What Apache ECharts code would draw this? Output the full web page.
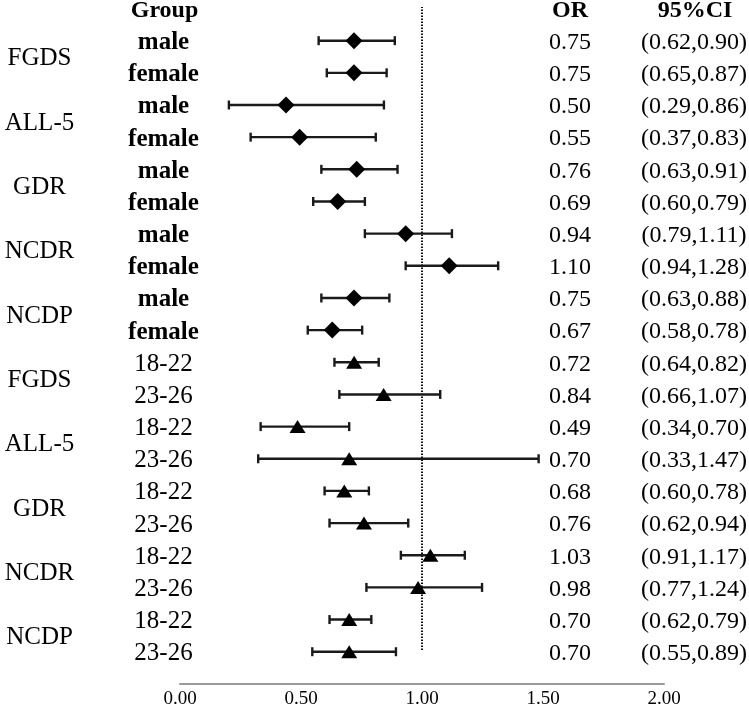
<!DOCTYPE html>
<html>
<head>
<meta charset="utf-8">
<script src="https://cdn.jsdelivr.net/npm/echarts@6/dist/echarts.min.js"></script>
<style>
  html, body { margin: 0; padding: 0; background: #fff; }
  #chart { width: 749px; height: 714px; }
</style>
</head>
<body>
<div id="chart"></div>
<script>
// outcome names, one per pair of rows
var groups = ['FGDS', 'ALL-5', 'GDR', 'NCDR', 'NCDP', 'FGDS', 'ALL-5', 'GDR', 'NCDR', 'NCDP'];
var subgroups = ['male', 'female', 'male', 'female', 'male', 'female', 'male', 'female', 'male', 'female',
                 '18-22', '23-26', '18-22', '23-26', '18-22', '23-26', '18-22', '23-26', '18-22', '23-26'];
var orVals = [0.75, 0.75, 0.50, 0.55, 0.76, 0.69, 0.94, 1.10, 0.75, 0.67,
              0.72, 0.84, 0.49, 0.70, 0.68, 0.76, 1.03, 0.98, 0.70, 0.70];
var ciLow  = [0.62, 0.65, 0.29, 0.37, 0.63, 0.60, 0.79, 0.94, 0.63, 0.58,
              0.64, 0.66, 0.34, 0.33, 0.60, 0.62, 0.91, 0.77, 0.62, 0.55];
var ciHigh = [0.90, 0.87, 0.86, 0.83, 0.91, 0.79, 1.11, 1.28, 0.88, 0.78,
              0.82, 1.07, 0.70, 1.47, 0.78, 0.94, 1.17, 1.24, 0.79, 0.89];
var xTicks = [0, 0.5, 1, 1.5, 2];
var refValue = 1;

var serif = '"Liberation Serif", "Times New Roman", serif';
var rowTop = 24.6, rowH = 32.16;

var orText = orVals.map(function (v) { return v.toFixed(2); });
var ciText = ciLow.map(function (v, i) { return '(' + v.toFixed(2) + ',' + ciHigh[i].toFixed(2) + ')'; });

// split rows: sex block (top) and age block (bottom)
function half(start) {
  var cats = [], ci = [], pts = [];
  for (var i = start; i < start + 10; i++) {
    cats.push(subgroups[i]);
    ci.push([ciLow[i], ciHigh[i], i - start]);
    pts.push([orVals[i], i - start]);
  }
  return { cats: cats, ci: ci, pts: pts };
}
var sexRows = half(0), ageRows = half(10);

function renderCI(params, api) {
  var y = api.value(2);
  var a = api.coord([api.value(0), y]);
  var b = api.coord([api.value(1), y]);
  var c = 4.5;
  var st = { stroke: '#1a1a1a', lineWidth: 2.4 };
  return {
    type: 'group',
    children: [
      { type: 'line', shape: { x1: a[0], y1: a[1], x2: b[0], y2: b[1] }, style: st },
      { type: 'line', shape: { x1: a[0], y1: a[1] - c, x2: a[0], y2: a[1] + c }, style: st },
      { type: 'line', shape: { x1: b[0], y1: b[1] - c, x2: b[0], y2: b[1] + c }, style: st }
    ]
  };
}

function hiddenX(idx) {
  return { type: 'value', gridIndex: idx, min: 0, max: 2, show: false };
}
function hiddenY(idx, cats) {
  return { type: 'category', gridIndex: idx, data: cats, inverse: true, show: false };
}
function textAxis(cats, off, size, extra) {
  var ax = {
    type: 'category', gridIndex: 3, data: cats, inverse: true, position: 'left', offset: -off,
    axisLine: { show: false }, axisTick: { show: false }, splitLine: { show: false },
    axisLabel: { interval: 0, margin: 0, align: 'center', color: '#000', fontFamily: serif, fontSize: size }
  };
  if (extra) Object.assign(ax.axisLabel, extra);
  return ax;
}

var chart = echarts.init(document.getElementById('chart'));
chart.setOption({
  animation: false,
  backgroundColor: '#fff',
  grid: [
    { left: 150, right: 55, top: rowTop, height: rowH * 10 },
    { left: 177, right: 80, top: rowTop + rowH * 10, height: rowH * 10 },
    { left: 180, right: 85, top: 7, bottom: 64 },
    { left: 0, right: 0, top: rowTop + 2, height: rowH * 20 }
  ],
  xAxis: [
    hiddenX(0),
    hiddenX(1),
    {
      type: 'value', gridIndex: 2, min: 0, max: 2, interval: 0.5, offset: 34,
      axisLine: { onZero: false, lineStyle: { color: '#9a9a9a', width: 2 } },
      axisTick: { show: false }, splitLine: { show: false },
      axisLabel: {
        margin: 6, color: '#000', fontFamily: serif, fontSize: 19,
        formatter: function (v) { return v.toFixed(2); }
      }
    },
    { type: 'value', gridIndex: 3, min: 0, max: 1, show: false }
  ],
  yAxis: [
    hiddenY(0, sexRows.cats),
    hiddenY(1, ageRows.cats),
    { type: 'value', gridIndex: 2, min: 0, max: 1, show: false },
    textAxis(groups, 39.5, 25),
    textAxis(subgroups, 163.5, 25, {
      formatter: function (v) { return v.indexOf('male') >= 0 ? '{b|' + v + '}' : v; },
      rich: { b: { fontWeight: 'bold', fontFamily: serif, fontSize: 25, color: '#000' } }
    }),
    textAxis(orText, 570, 24),
    textAxis(ciText, 694, 24)
  ],
  graphic: [
    { type: 'text', x: 164.5, y: 11, style: { text: 'Group', font: 'bold 24px ' + serif, fill: '#000', align: 'center', verticalAlign: 'middle' } },
    { type: 'text', x: 570, y: 11, style: { text: 'OR', font: 'bold 24px ' + serif, fill: '#000', align: 'center', verticalAlign: 'middle' } },
    { type: 'text', x: 695, y: 11, style: { text: '95%CI', font: 'bold 24px ' + serif, fill: '#000', align: 'center', verticalAlign: 'middle' } }
  ],
  series: [
    {
      type: 'line', xAxisIndex: 2, yAxisIndex: 2, symbol: 'none', z: 1,
      data: [[refValue, 0], [refValue, 1]],
      lineStyle: { color: '#111', width: 2, type: [1.5, 1.5] }
    },
    {
      type: 'custom', xAxisIndex: 0, yAxisIndex: 0, z: 2, renderItem: renderCI,
      encode: { x: [0, 1], y: 2 }, data: sexRows.ci
    },
    {
      type: 'custom', xAxisIndex: 1, yAxisIndex: 1, z: 2, renderItem: renderCI,
      encode: { x: [0, 1], y: 2 }, data: ageRows.ci
    },
    {
      type: 'scatter', xAxisIndex: 0, yAxisIndex: 0, z: 3,
      symbol: 'diamond', symbolSize: 17, itemStyle: { color: '#000', opacity: 1 },
      data: sexRows.pts
    },
    {
      type: 'scatter', xAxisIndex: 1, yAxisIndex: 1, z: 3,
      symbol: 'triangle', symbolSize: [16, 13], itemStyle: { color: '#000', opacity: 1 },
      data: ageRows.pts
    }
  ]
});
</script>
</body>
</html>
